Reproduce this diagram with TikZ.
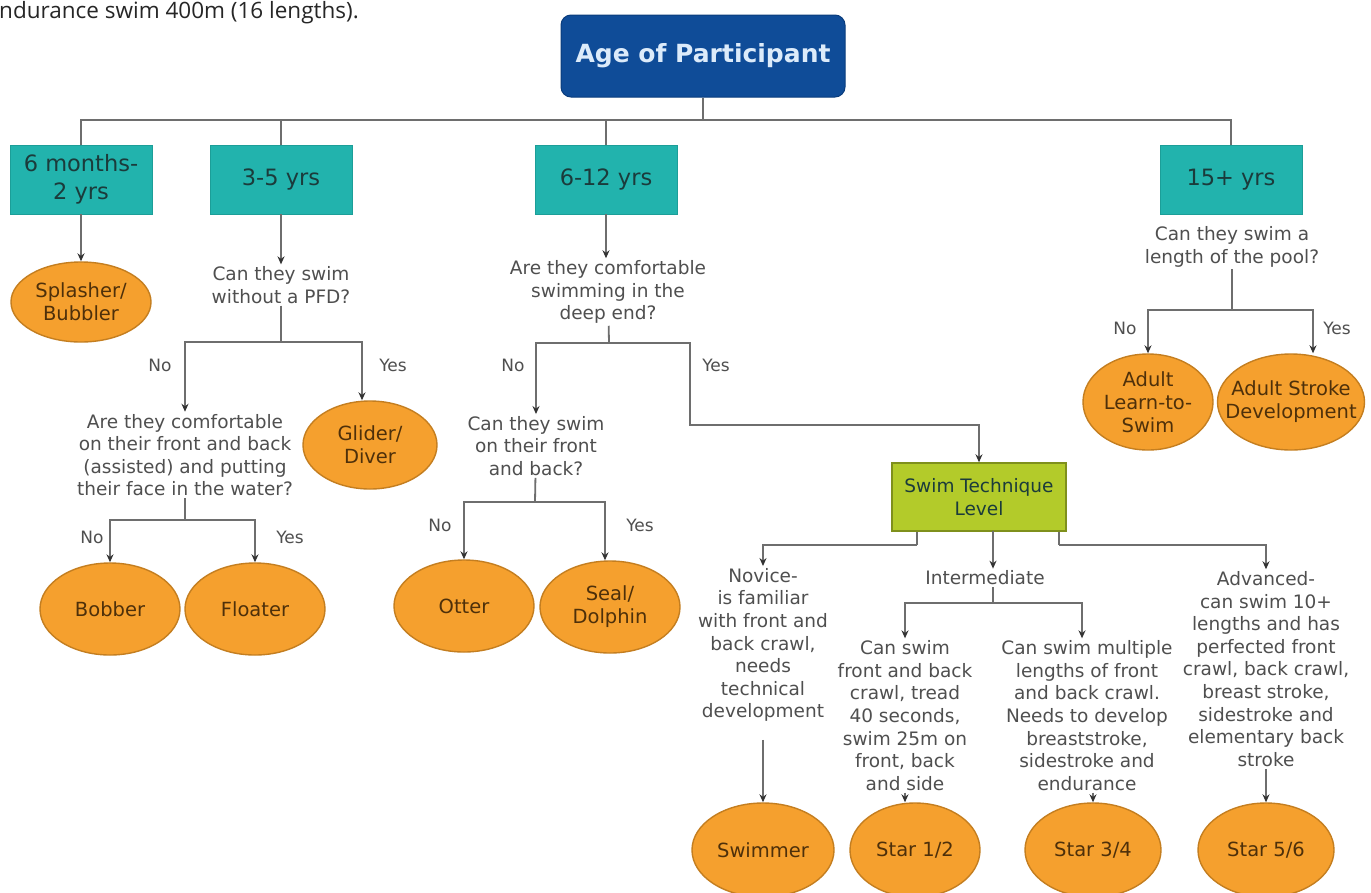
\documentclass[tikz,border=0pt]{standalone}
\usepackage{fontspec}
\setmainfont{DejaVu Sans}
\newfontfamily\topfont{Open Sans}
\usetikzlibrary{shapes.geometric,arrows.meta,calc}
\definecolor{lineg}{HTML}{6E6E6E}
\definecolor{tealc}{HTML}{22B3AD}
\definecolor{tealb}{HTML}{1C9E98}
\definecolor{orangec}{HTML}{F5A02E}
\definecolor{orangeb}{HTML}{C47E20}
\definecolor{greenc}{HTML}{B3CB2A}
\definecolor{greenb}{HTML}{7F901C}
\definecolor{bluec}{HTML}{0F4C98}
\definecolor{blueb}{HTML}{0A3C7C}
\definecolor{titletext}{HTML}{DCEBFA}
\definecolor{qtext}{HTML}{4F4F4F}
\definecolor{etext}{HTML}{4E300A}
\definecolor{btext}{HTML}{1B3B3B}
\tikzset{
  line/.style={draw=lineg, line width=1.8pt},
  arr/.style={line, -{Stealth[length=8pt,width=7pt,color=black!80]}},
  agebox/.style={rectangle, fill=tealc, draw=tealb, line width=0.6pt, minimum width=142pt, minimum height=69pt, inner sep=2pt, align=center, text=btext, font=\fontsize{22.5}{28}\selectfont},
  leaf/.style={ellipse, fill=orangec, draw=orangeb, line width=1.4pt, inner sep=0pt},
  leaftext/.style={inner sep=0pt, align=center, text=etext, font=\fontsize{19.5}{23}\selectfont},
  quest/.style={inner sep=2pt, align=center, text=qtext, font=\fontsize{18.5}{22.6}\selectfont},
  yn/.style={inner sep=1pt, text=qtext, font=\fontsize{17}{20}\selectfont}
}
\begin{document}
\begin{tikzpicture}[x=1pt,y=-1pt]
\useasboundingbox (0,0) rectangle (1371,892);
\fill[white] (0,0) rectangle (1371,892);

% top cut text
\node[anchor=base west, inner sep=0pt, text=black!85, font=\topfont\fontsize{22.5}{26}\selectfont] (toptext) at (-1,18) {ndurance swim 400m (16 lengths).};

% root
\node[rectangle, rounded corners=10pt, fill=bluec, draw=blueb, line width=1pt, minimum width=284pt, minimum height=82pt, text=titletext, font=\bfseries\fontsize{25}{30}\selectfont] (age) at (703,56) {Age of Participant};

% age boxes
\node[agebox] (b1) at (81,179.5) {6 months-\\2 yrs};
\node[agebox] (b2) at (281,179.5) {3-5 yrs};
\node[agebox] (b3) at (606,179.5) {6-12 yrs};
\node[agebox] (b4) at (1231,179.5) {15+ yrs};

\coordinate (top) at (703,120);
\draw[line] (age) -- (top);
\draw[line] (b1.north) -- (b1.north |- top) -- (b4.north |- top) -- (b4.north);
\draw[line] (b2.north) -- (b2.north |- top);
\draw[line] (b3.north) -- (b3.north |- top);

% 6 months branch
\node[leaf, minimum width=140pt, minimum height=80pt] (splash) at (81,302) {};
\node[leaftext] (splashT) at (splash) {Splasher/\\Bubbler};
\draw[arr] (b1) -- (splash);

% 3-5 branch
\node[quest] (q1) at (281,285) {Can they swim\\without a PFD?};
\draw[arr] (b2) -- (q1);
\coordinate (j1) at (281,342);
\draw[line] (q1) -- (j1);
\node[quest] (q2) at (185,455) {Are they comfortable\\on their front and back\\(assisted) and putting\\their face in the water?};
\node[leaf, minimum width=134pt, minimum height=88pt] (glider) at (370,445) {};
\node[leaftext] (gliderT) at (glider) {Glider/\\Diver};
\draw[arr] (j1) -| (q2);
\draw[arr] (j1) -| ([xshift=-8pt]glider.north);
\node[yn] (no1) at (160,365) {No};
\node[yn] (yes1) at (393,365) {Yes};
\coordinate (j2) at (185,520);
\draw[line] (q2) -- (j2);
\node[leaf, minimum width=140pt, minimum height=92pt] (bobber) at (110,609) {};
\node[leaftext] (bobberT) at (bobber) {Bobber};
\node[leaf, minimum width=140pt, minimum height=92pt] (floater) at (255,609) {};
\node[leaftext] (floaterT) at (floater) {Floater};
\draw[arr] (j2) -| (bobber);
\draw[arr] (j2) -| (floater);
\node[yn] (no2) at (92,537) {No};
\node[yn] (yes2) at (290,537) {Yes};

% 6-12 branch
\node[quest] (q3) at (608,292) {Are they comfortable\\swimming in the\\deep end?};
\draw[arr] (b3) -- (b3.south |- q3.north);
\coordinate (j3) at (609,343);
\draw[line] (q3) -- (j3);
\node[quest] (q4) at (536,446) {Can they swim\\on their front\\and back?};
\draw[arr] (j3) -| (q4);
\node[yn] (no3) at (513,365) {No};
\node[yn] (yes3) at (716,365) {Yes};
\node[rectangle, fill=greenc, draw=greenb, line width=1.4pt, minimum width=174pt, minimum height=68pt, align=center, text=btext, font=\fontsize{18.5}{23}\selectfont] (green) at (979,497) {Swim Technique\\Level};
\coordinate (c1) at (690,425);
\draw[arr] (j3) -| (c1) -| (green);
\coordinate (j4) at (535,502);
\draw[line] (q4) -- (j4);
\node[leaf, minimum width=140pt, minimum height=92pt] (otter) at (464,606) {};
\node[leaftext] (otterT) at (otter) {Otter};
\node[leaf, minimum width=140pt, minimum height=92pt] (seal) at (610,607) {};
\node[leaftext] (sealT) at (seal) {Seal/\\Dolphin};
\draw[arr] (j4) -| (otter);
\draw[arr] (j4) -| ([xshift=-5pt]seal.north);
\node[yn] (no4) at (440,525) {No};
\node[yn] (yes4) at (640,525) {Yes};

% technique levels
\node[quest] (novice) at (763,645) {Novice-\\is familiar\\with front and\\back crawl,\\needs\\technical\\development};
\node[quest] (inter) at (985,578) {Intermediate};
\node[quest] (adv) at (1266,669) {Advanced-\\can swim 10+\\lengths and has\\perfected front\\crawl, back crawl,\\breast stroke,\\sidestroke and\\elementary back\\stroke};
\coordinate (gl) at (917,545);
\coordinate (gr) at (1059,545);
\draw[line] (gl |- green.south) -- (gl);
\draw[arr] (gl) -| (novice);
\draw[line] (gr |- green.south) -- (gr);
\draw[arr] (gr) -| (adv);
\coordinate (gm) at (993,531);
\draw[arr] (gm) -- (gm |- inter.north);
\node[quest] (t12) at (905,715.5) {Can swim\\front and back\\crawl, tread\\40 seconds,\\swim 25m on\\front, back\\and side};
\node[quest] (t34) at (1087,715.5) {Can swim multiple\\lengths of front\\and back crawl.\\Needs to develop\\breaststroke,\\sidestroke and\\endurance};
\coordinate (j5) at (993,603);
\draw[line] (inter.south -| j5) -- (j5);
\draw[arr] (j5) -| (t12);
\draw[arr] (j5) -| ([xshift=-5pt]t34.north);

\node[leaf, minimum width=142pt, minimum height=94pt] (swimmer) at (763,850) {};
\node[leaftext] (swimmerT) at (swimmer) {Swimmer};
\node[leaf, minimum width=130pt, minimum height=94pt] (star12) at (915,850) {};
\node[leaftext] (star12T) at (star12) {Star 1/2};
\node[leaf, minimum width=136pt, minimum height=94pt] (star34) at (1093,850) {};
\node[leaftext] (star34T) at (star34) {Star 3/4};
\node[leaf, minimum width=136pt, minimum height=94pt] (star56) at (1266,850) {};
\node[leaftext] (star56T) at (star56) {Star 5/6};
\draw[arr] ([yshift=-16pt]novice.south) -- (swimmer.north);
\draw[arr] (t12.south) -- (t12.south |- star12.north);
\draw[arr] ([xshift=6pt]t34.south) -- ([xshift=6pt]t34.south |- star34.north);
\draw[arr] (adv.south) -- (star56.north);

% 15+ branch
\node[quest] (q5) at (1232,247) {Can they swim a\\length of the pool?};
\coordinate (j6) at (1232,310);
\draw[line] (q5) -- (j6);
\node[leaf, minimum width=130pt, minimum height=96pt] (adultL) at (1148,402) {};
\node[leaftext] (adultLT) at (adultL) {Adult\\Learn-to-\\Swim};
\node[leaf, minimum width=147pt, minimum height=96pt] (adultS) at (1291,402) {};
\node[leaftext] (adultST) at (adultS) {Adult Stroke\\Development};
\draw[arr] (j6) -| (adultL);
\draw[arr] (j6) -| ([xshift=22pt]adultS.north);
\node[yn] (no5) at (1125,328) {No};
\node[yn] (yes5) at (1337,328) {Yes};
\end{tikzpicture}
\end{document}
